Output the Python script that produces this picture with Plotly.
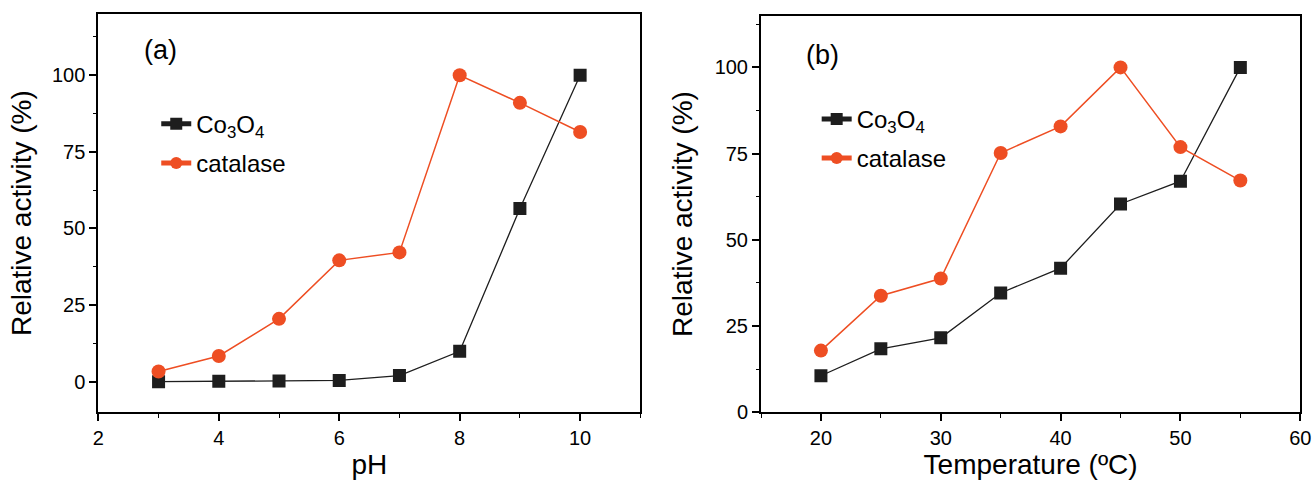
import plotly.graph_objects as go

# ---- data ----
ph = [3, 4, 5, 6, 7, 8, 9, 10]
ph_co3o4 = [0.0, 0.1, 0.2, 0.4, 2.0, 9.9, 56.5, 100.0]
ph_catalase = [3.3, 8.4, 20.5, 39.6, 42.2, 100.0, 91.0, 81.5]

temp = [20, 25, 30, 35, 40, 45, 50, 55]
t_co3o4 = [10.6, 18.4, 21.6, 34.6, 41.8, 60.4, 67.0, 100.0]
t_catalase = [17.9, 33.8, 38.8, 75.2, 82.9, 100.0, 76.9, 67.2]

BLACK = "#1e1e1e"
ORANGE = "#EE4E23"
FONT = "Liberation Sans, Arial, sans-serif"

fig = go.Figure()

def add_pair(x, yc, yk, xa, ya, legend):
    fig.add_trace(go.Scatter(
        x=x, y=yc, mode="lines+markers", name="Co<sub>3</sub>O<sub>4</sub>",
        line=dict(color=BLACK, width=1.3),
        marker=dict(symbol="square", size=13, color=BLACK),
        xaxis=xa, yaxis=ya, legend=legend, legendgroup=legend + "a"))
    fig.add_trace(go.Scatter(
        x=x, y=yk, mode="lines+markers", name="catalase",
        line=dict(color=ORANGE, width=1.5),
        marker=dict(symbol="circle", size=14, color=ORANGE),
        xaxis=xa, yaxis=ya, legend=legend, legendgroup=legend + "b"))

add_pair(ph, ph_co3o4, ph_catalase, "x", "y", "legend")
add_pair(temp, t_co3o4, t_catalase, "x2", "y2", "legend2")

axis_common = dict(
    showline=True, linecolor="black", linewidth=2, mirror=True,
    ticks="outside", ticklen=7, tickwidth=1.5, tickcolor="black",
    showgrid=False, zeroline=False, automargin=False,
    tickfont=dict(family=FONT, size=20, color="black"),
)
minor = dict(ticks="outside", ticklen=3.5, tickwidth=1.2, tickcolor="black", showgrid=False)

fig.update_layout(
    width=1313, height=484,
    margin=dict(l=0, r=0, t=0, b=0, autoexpand=False),
    paper_bgcolor="white", plot_bgcolor="white",
    font=dict(family=FONT, color="black"),
    xaxis=dict(domain=[0.0749, 0.4877], range=[2, 11], dtick=2, tick0=2,
               minor=dict(dtick=1, **minor), anchor="y",
               title=dict(text="pH", font=dict(size=28, family=FONT), standoff=6),
               **axis_common),
    yaxis=dict(domain=[0.1481, 0.9711], range=[-10, 120], tickvals=[0, 25, 50, 75, 100],
               minor=dict(tickvals=[-12.5, 12.5, 37.5, 62.5, 87.5, 112.5], **minor), anchor="x",
               title=dict(text="Relative activity (%)", font=dict(size=28, family=FONT), standoff=12),
               **axis_common),
    xaxis2=dict(domain=[0.5796, 0.9903], range=[15, 60], dtick=10, tick0=20,
                minor=dict(dtick=5, tick0=15, **minor), anchor="y2",
                title=dict(text="Temperature (ºC)", font=dict(size=28, family=FONT), standoff=6),
                **axis_common),
    yaxis2=dict(domain=[0.1481, 0.9676], range=[0, 115], tickvals=[0, 25, 50, 75, 100],
                minor=dict(tickvals=[12.5, 37.5, 62.5, 87.5, 112.5], **minor), anchor="x2",
                title=dict(text="Relative activity (%)", font=dict(size=28, family=FONT), standoff=14),
                **axis_common),
    legend=dict(x=0.119, y=0.79, xanchor="left", yanchor="top",
                bgcolor="rgba(0,0,0,0)", font=dict(size=24, family=FONT),
                tracegroupgap=5, itemsizing="constant"),
    legend2=dict(x=0.622, y=0.80, xanchor="left", yanchor="top",
                 bgcolor="rgba(0,0,0,0)", font=dict(size=24, family=FONT),
                 tracegroupgap=5, itemsizing="constant"),
    annotations=[
        dict(text="(a)", x=160 / 1313, y=1 - 50 / 484, xref="paper", yref="paper",
             showarrow=False, font=dict(size=27, family=FONT), xanchor="center", yanchor="middle"),
        dict(text="(b)", x=822 / 1313, y=1 - 55 / 484, xref="paper", yref="paper",
             showarrow=False, font=dict(size=27, family=FONT), xanchor="center", yanchor="middle"),
    ],
)

fig.write_html("out.html")
